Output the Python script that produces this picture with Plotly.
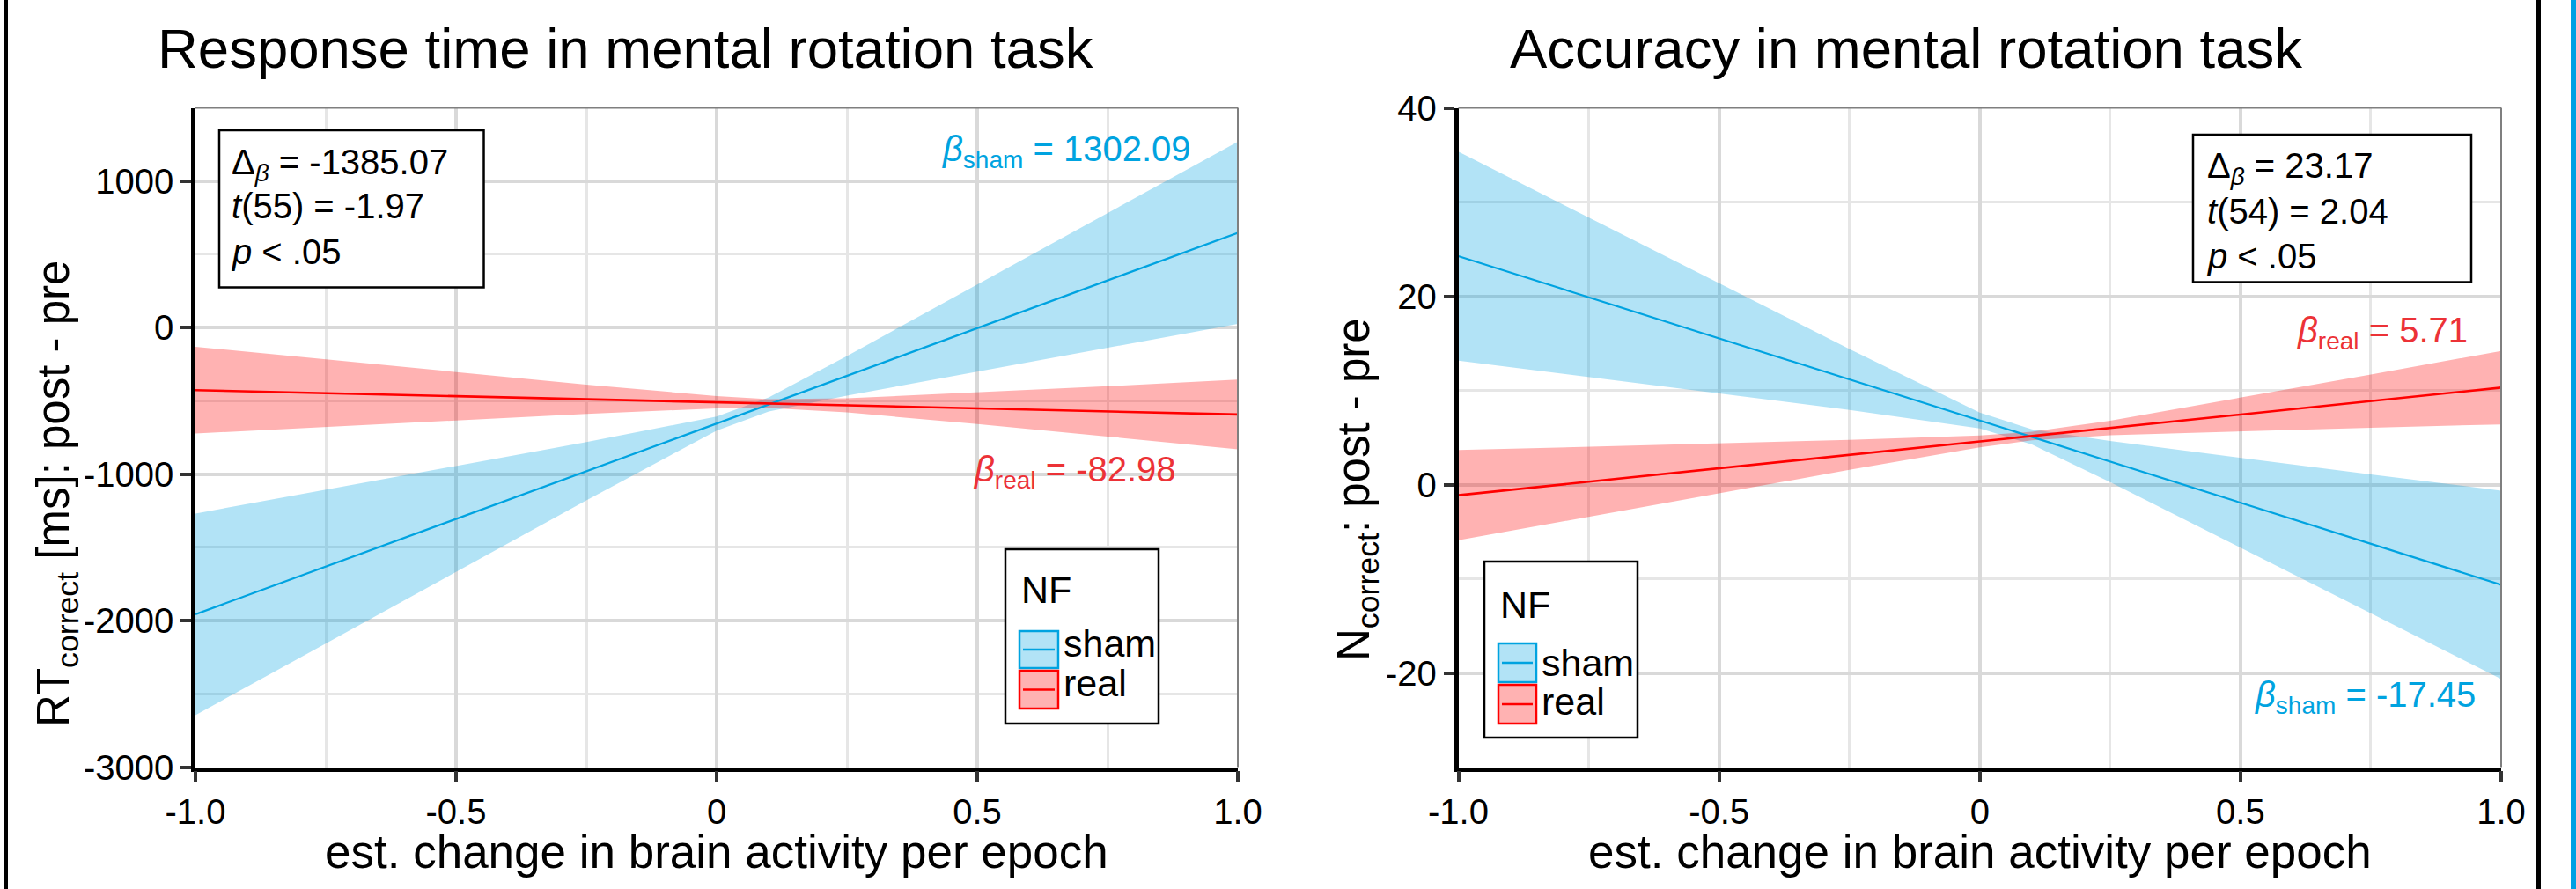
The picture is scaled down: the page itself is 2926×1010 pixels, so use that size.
import plotly.graph_objects as go

# ---------------- data ----------------
x_grid = [-1.0, -0.75, -0.5, -0.25, 0.0, 0.1, 0.25, 0.5, 0.75, 1.0]

# Response time panel
rt_sham_fit = [-1957, -1632, -1306, -981, -655, -525, -329, -4, 322, 647]
rt_sham_hi = [-1269, -1108, -945, -782, -607, -477, -194, 292, 781, 1269]
rt_sham_lo = [-2645, -2156, -1667, -1180, -703, -573, -464, -300, -137, 25]
rt_real_fit = [-427, -448, -469, -489, -510, -518, -531, -551, -572, -593]
rt_real_hi = [-131, -218, -304, -389, -468, -488, -483, -443, -400, -355]
rt_real_lo = [-723, -678, -634, -589, -552, -548, -579, -659, -744, -831]

# Accuracy panel
acc_sham_fit = [24.25, 19.89, 15.53, 11.16, 6.80, 5.06, 2.44, -1.93, -6.29, -10.65]
acc_sham_hi = [35.34, 28.36, 21.37, 14.40, 7.64, 5.87, 4.62, 2.83, 1.08, -0.65]
acc_sham_lo = [13.16, 11.42, 9.69, 7.92, 5.96, 4.25, 0.26, -6.69, -13.66, -20.65]
acc_real_fit = [-1.13, 0.30, 1.73, 3.15, 4.58, 5.15, 6.01, 7.44, 8.86, 10.29]
acc_real_hi = [3.66, 4.02, 4.38, 4.74, 5.21, 5.60, 6.78, 9.21, 11.69, 14.19]
acc_real_lo = [-5.92, -3.42, -0.92, 1.56, 3.95, 4.70, 5.24, 5.67, 6.03, 6.39]

x_ticks = [-1.0, -0.5, 0.0, 0.5, 1.0]
x_ticklabels = ["-1.0", "-0.5", "0", "0.5", "1.0"]
rt_ticks = [-3000, -2000, -1000, 0, 1000]
rt_ticklabels = ["-3000", "-2000", "-1000", "0", "1000"]
acc_ticks = [-20, 0, 20, 40]
acc_ticklabels = ["-20", "0", "20", "40"]

groups = ["sham", "real"]
titles = ["Response time in mental rotation task", "Accuracy in mental rotation task"]
y_titles = ["RT<sub>correct</sub> [ms]: post - pre", "N<sub>correct</sub>: post - pre"]
x_title = "est. change in brain activity per epoch"
stats_left = ["Δ<sub><i>β</i></sub> = -1385.07", "<i>t</i>(55) = -1.97", "<i>p</i> &lt; .05"]
stats_right = ["Δ<sub><i>β</i></sub> = 23.17", "<i>t</i>(54) = 2.04", "<i>p</i> &lt; .05"]
beta_left = {"sham": "1302.09", "real": "-82.98"}
beta_right = {"sham": "-17.45", "real": "5.71"}

# ---------------- styling ----------------
W, H = 2926, 1010
FONT = "Liberation Sans, Arial, Helvetica, sans-serif"
LINE_COL = {"sham": "#00a3e0", "real": "#ff0000"}
FILL_COL = {"sham": "rgba(0,163,224,0.30)", "real": "rgba(255,0,0,0.30)"}
TEXT_COL = {"sham": "#00a3e0", "real": "#ec3237"}
LINE_W = {"sham": 2.2, "real": 2.6}
MAJ = "#d9d9d9"
MIN = "#e6e6e6"


def px(xp):
    return xp / W


def py(yp):
    return 1 - yp / H


L_DOM = [px(222), px(1406)]
R_DOM = [px(1656.5), px(2841)]
Y_DOM = [py(871.5), py(122.5)]

fig = go.Figure()

panels = [
    ("x", "y", {"sham": (rt_sham_fit, rt_sham_hi, rt_sham_lo), "real": (rt_real_fit, rt_real_hi, rt_real_lo)}),
    ("x2", "y2", {"sham": (acc_sham_fit, acc_sham_hi, acc_sham_lo), "real": (acc_real_fit, acc_real_hi, acc_real_lo)}),
]

for xa, ya, series in panels:
    for g in groups:
        fit, hi, lo = series[g]
        fig.add_trace(go.Scatter(
            x=x_grid + x_grid[::-1], y=hi + lo[::-1], xaxis=xa, yaxis=ya,
            fill="toself", fillcolor=FILL_COL[g], line=dict(width=0),
            mode="lines", hoverinfo="skip", showlegend=False))
    for g in groups:
        fit, hi, lo = series[g]
        fig.add_trace(go.Scatter(
            x=x_grid, y=fit, xaxis=xa, yaxis=ya, mode="lines",
            line=dict(color=LINE_COL[g], width=LINE_W[g]), showlegend=False))

axis_common = dict(
    showgrid=True, gridcolor=MAJ, gridwidth=4,
    showline=True, linecolor="black", linewidth=4.5,
    ticks="outside", ticklen=12, tickwidth=4, tickcolor="#333333",
    tickfont=dict(size=40, color="black", family=FONT),
    zeroline=False, fixedrange=True, automargin=False,
)

fig.update_layout(
    template="none",
    width=W, height=H, autosize=False,
    margin=dict(l=0, r=0, t=0, b=0, pad=0, autoexpand=False),
    paper_bgcolor="white", plot_bgcolor="white",
    font=dict(family=FONT, color="black"),
    showlegend=False,
    xaxis=dict(domain=L_DOM, range=[-1, 1], tickvals=x_ticks, ticktext=x_ticklabels,
               minor=dict(dtick=0.25, tick0=0, showgrid=True, gridcolor=MIN, gridwidth=3, ticks=""),
               anchor="y", **axis_common),
    yaxis=dict(domain=Y_DOM, range=[-3000, 1500], tickvals=rt_ticks, ticktext=rt_ticklabels,
               minor=dict(dtick=500, tick0=0, showgrid=True, gridcolor=MIN, gridwidth=3, ticks=""),
               anchor="x", **axis_common),
    xaxis2=dict(domain=R_DOM, range=[-1, 1], tickvals=x_ticks, ticktext=x_ticklabels,
                minor=dict(dtick=0.25, tick0=0, showgrid=True, gridcolor=MIN, gridwidth=3, ticks=""),
                anchor="y2", **axis_common),
    yaxis2=dict(domain=Y_DOM, range=[-30, 40], tickvals=acc_ticks, ticktext=acc_ticklabels,
                minor=dict(dtick=10, tick0=0, showgrid=True, gridcolor=MIN, gridwidth=3, ticks=""),
                anchor="x2", **axis_common),
)

shapes = []
# panel borders (top / right, thin gray)
for xr, yr in [("x domain", "y domain"), ("x2 domain", "y2 domain")]:
    shapes.append(dict(type="line", xref=xr, yref=yr, x0=0, x1=1, y0=1, y1=1,
                       line=dict(color="#7f7f7f", width=2), layer="above"))
    shapes.append(dict(type="line", xref=xr, yref=yr, x0=1, x1=1, y0=0, y1=1,
                       line=dict(color="#7f7f7f", width=2), layer="above"))

# outer frame pieces
shapes.append(dict(type="line", xref="paper", yref="paper", x0=px(7), x1=px(7), y0=0, y1=1,
                   line=dict(color="black", width=4)))
shapes.append(dict(type="line", xref="paper", yref="paper", x0=px(2883), x1=px(2883), y0=0, y1=1,
                   line=dict(color="black", width=6)))
shapes.append(dict(type="rect", xref="paper", yref="paper", x0=px(2920), x1=px(2926), y0=0, y1=1,
                   fillcolor="#00a0e3", line=dict(width=0)))


def rect_px(x0, y0, x1, y1, **kw):
    d = dict(type="rect", xref="paper", yref="paper", x0=px(x0), x1=px(x1), y0=py(y1), y1=py(y0))
    d.update(kw)
    return d


# stats boxes
shapes.append(rect_px(249, 148, 549.5, 326.5, line=dict(color="black", width=2.5), fillcolor="white", layer="above"))
shapes.append(rect_px(2491, 153, 2807, 320.5, line=dict(color="black", width=2.5), fillcolor="white", layer="above"))

annotations = []


def ann(text, xp, yp, size, xanchor="left", color="black", angle=0):
    annotations.append(dict(text=text, xref="paper", yref="paper", x=px(xp), y=py(yp),
                            xanchor=xanchor, yanchor="middle", showarrow=False,
                            textangle=angle, font=dict(size=size, color=color, family=FONT)))


# legends
def legend(bx0, by0, bx1, by1, nf_x, nf_c, key_x0, key_x1, keys, text_cs):
    shapes.append(rect_px(bx0, by0, bx1, by1, line=dict(color="black", width=2.5), fillcolor="white", layer="above"))
    ann("NF", nf_x, nf_c, 43)
    for g, (ky0, ky1), tc in zip(groups, keys, text_cs):
        shapes.append(rect_px(key_x0, ky0, key_x1, ky1, fillcolor=FILL_COL[g],
                              line=dict(color=LINE_COL[g], width=2.5), layer="above"))
        ym = (ky0 + ky1) / 2
        shapes.append(dict(type="line", xref="paper", yref="paper", x0=px(key_x0 + 4), x1=px(key_x1 - 4),
                           y0=py(ym), y1=py(ym), line=dict(color=LINE_COL[g], width=2.5), layer="above"))
        ann(g, key_x1 + 4, tc, 43)


legend(1142, 624, 1316, 822, 1158, 670, 1158, 1202, [(717, 759), (762, 805)], [731, 776])
legend(1686, 638, 1860, 838, 1702, 687, 1702, 1745, [(731, 775), (778, 822)], [753, 797])

# titles
ann(titles[0], 710, 55, 63.5, xanchor="center")
ann(titles[1], 2165, 55, 63.5, xanchor="center")
# axis titles
ann(x_title, 814, 967, 53, xanchor="center")
ann(x_title, 2249, 967, 53, xanchor="center")
ann(y_titles[0], 64, 561, 51, xanchor="center", angle=-90)
ann(y_titles[1], 1541, 556, 51, xanchor="center", angle=-90)

# stats text
for txt, yc in zip(stats_left, [187.1, 234.1, 286.1]):
    ann(txt, 261, yc, 40)
for txt, yc in zip(stats_right, [191.1, 240.1, 291.1]):
    ann(txt, 2505, yc, 40)

# beta labels
ann("<i>β</i><sub>sham</sub> = " + beta_left["sham"], 1355, 172.1, 40, xanchor="right", color=TEXT_COL["sham"])
ann("<i>β</i><sub>real</sub> = " + beta_left["real"], 1338, 536.1, 40, xanchor="right", color=TEXT_COL["real"])
ann("<i>β</i><sub>real</sub> = " + beta_right["real"], 2805, 378.1, 40, xanchor="right", color=TEXT_COL["real"])
ann("<i>β</i><sub>sham</sub> = " + beta_right["sham"], 2814, 792.1, 40, xanchor="right", color=TEXT_COL["sham"])

fig.update_layout(shapes=shapes, annotations=annotations)
fig.write_html("out.html")
